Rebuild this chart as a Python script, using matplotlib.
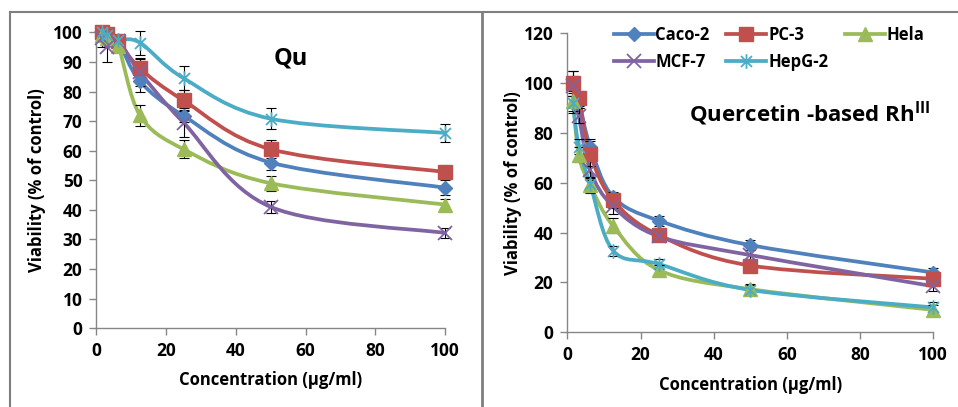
"""Cell viability vs concentration: free quercetin (Qu) and the quercetin-based Rh(III) complex."""
import matplotlib

matplotlib.use("Agg")
import matplotlib.pyplot as plt
from matplotlib.lines import Line2D
from matplotlib.path import Path
from matplotlib.patches import PathPatch

plt.rcParams["font.family"] = ["Open Sans", "DejaVu Sans"]
plt.rcParams["font.weight"] = "bold"
plt.rcParams["mathtext.fontset"] = "custom"
plt.rcParams["mathtext.rm"] = "Open Sans:bold"
plt.rcParams["mathtext.bf"] = "Open Sans:bold"

conc = [1.56, 3.125, 6.25, 12.5, 25, 50, 100]
cell_lines = ["Caco-2", "PC-3", "Hela", "MCF-7", "HepG-2"]

# viability (% of control), free quercetin
qu_caco2 = [100, 98.5, 97, 83.5, 71.8, 56.0, 47.5]
qu_pc3 = [100, 99.5, 97, 87.8, 77.0, 60.5, 52.8]
qu_hela = [99, 98, 95.5, 72.0, 60.5, 49.0, 41.8]
qu_mcf7 = [98, 95, 97, 86.5, 69.5, 41.0, 32.2]
qu_hepg2 = [100, 99, 97.5, 96.5, 84.5, 70.8, 66.0]

qu_caco2_sd = [2, 2, 2, 3.5, 2, 2.5, 2.5]
qu_pc3_sd = [1, 1, 1.5, 3.5, 3.5, 3, 1.5]
qu_hela_sd = [1, 1, 2, 3.5, 3, 2.5, 2]
qu_mcf7_sd = [3, 5, 2, 4.5, 5, 2, 1.8]
qu_hepg2_sd = [2, 2, 1.5, 4, 4, 3.5, 3]

# viability (% of control), quercetin-based Rh(III) complex
rh_caco2 = [100, 93, 74.5, 54.4, 44.8, 35.0, 24.0]
rh_pc3 = [100, 94, 71.6, 53.0, 39.0, 26.8, 21.5]
rh_hela = [93, 71.2, 59.0, 42.7, 25.0, 17.3, 9.0]
rh_mcf7 = [99, 87, 65.0, 50.5, 38.5, 31.0, 18.5]
rh_hepg2 = [92, 74.5, 59.5, 32.8, 27.4, 17.0, 10.0]

rh_caco2_sd = [5, 3, 3, 2, 2, 2, 2]
rh_pc3_sd = [5, 3, 5, 3, 2, 2.5, 2]
rh_hela_sd = [4, 3, 3, 3, 2, 2, 2]
rh_mcf7_sd = [4, 3, 4, 3, 2, 2, 2]
rh_hepg2_sd = [4, 3, 3, 2, 2, 2, 2]

colors = ["#4F81BD", "#C0504D", "#9BBB59", "#8064A2", "#4BACC6"]

# Excel-style star: an X with a vertical bar through it
star = Path([(0, -1), (0, 1), (-0.75, -0.75), (0.75, 0.75), (-0.75, 0.75), (0.75, -0.75)],
            [Path.MOVETO, Path.LINETO, Path.MOVETO, Path.LINETO, Path.MOVETO, Path.LINETO])
markers = [
    dict(marker="D", markersize=7.5, mec="#4F81BD"),
    dict(marker="s", markersize=10, mec="#C0504D"),
    dict(marker="^", markersize=10, mec="#9BBB59"),
    dict(marker="x", markersize=9.5, mew=1.3),
    dict(marker=star, markersize=10.5, mew=1.3),
]


def smooth_path(xs, ys):
    # Catmull-Rom style cubic Bezier through the points (like Excel's smoothed line)
    pts = list(zip(xs, ys))
    verts = [pts[0]]
    codes = [Path.MOVETO]
    n = len(pts)
    for i in range(n - 1):
        p0 = pts[max(i - 1, 0)]
        p1 = pts[i]
        p2 = pts[i + 1]
        p3 = pts[min(i + 2, n - 1)]
        c1 = (p1[0] + (p2[0] - p0[0]) / 6, p1[1] + (p2[1] - p0[1]) / 6)
        c2 = (p2[0] - (p3[0] - p1[0]) / 6, p2[1] - (p3[1] - p1[1]) / 6)
        verts += [c1, c2, p2]
        codes += [Path.CURVE4] * 3
    return Path(verts, codes)


def draw_panel(ax, series, errors, ymax, ystep, ylab_x, xlab_y):
    for k, (ys, es) in enumerate(zip(series, errors)):
        ax.add_patch(PathPatch(smooth_path(conc, ys), fill=False, ec=colors[k], lw=2.7,
                               zorder=2 + k * 0.1, clip_on=False, capstyle="round"))
        ax.errorbar(conc, ys, yerr=es, fmt="none", ecolor="black", elinewidth=0.8,
                    capsize=3.5, capthick=0.8, zorder=3, clip_on=False)
        ax.plot(conc, ys, ls="none", color=colors[k], zorder=4 + k * 0.1, clip_on=False,
                **markers[k])
    ax.set_xlim(0, 100)
    ax.set_ylim(0, ymax)
    ax.set_xticks(range(0, 101, 20))
    ax.set_yticks(range(0, ymax + 1, ystep))
    for s in ("top", "right"):
        ax.spines[s].set_visible(False)
    for s in ("left", "bottom"):
        ax.spines[s].set_color("#868686")
        ax.spines[s].set_linewidth(1.0)
    ax.tick_params(axis="both", direction="out", length=5, width=1.0, color="#868686",
                   labelsize=12.5, pad=5)
    for lbl in ax.get_xticklabels() + ax.get_yticklabels():
        lbl.set_fontweight("bold")
    ax.set_xlabel("Concentration (µg/ml)", fontsize=12, fontweight="bold")
    ax.set_ylabel("Viability (% of control)", fontsize=12, fontweight="bold")
    ax.yaxis.set_label_coords(ylab_x, 0.5)
    ax.xaxis.set_label_coords(0.5, xlab_y)
    ax.xaxis.label.set_va("center")
    ax.yaxis.label.set_va("center")


fig = plt.figure(figsize=(9.58, 4.07), dpi=100)
ax1 = fig.add_axes([0.1005, 0.1934, 0.3643, 0.7272])
ax2 = fig.add_axes([0.5922, 0.1835, 0.3820, 0.7347])

draw_panel(ax1, [qu_caco2, qu_pc3, qu_hela, qu_mcf7, qu_hepg2],
           [qu_caco2_sd, qu_pc3_sd, qu_hela_sd, qu_mcf7_sd, qu_hepg2_sd], 100, 10,
           -0.171, -0.175)
draw_panel(ax2, [rh_caco2, rh_pc3, rh_hela, rh_mcf7, rh_hepg2],
           [rh_caco2_sd, rh_pc3_sd, rh_hela_sd, rh_mcf7_sd, rh_hepg2_sd], 120, 20,
           -0.148, -0.176)

ax1.text(0.556, 0.913, "Qu", transform=ax1.transAxes, ha="center", va="center",
         fontsize=17, fontweight="bold")
ax2.text(0.663, 0.733, r"Quercetin -based Rh$^{\mathrm{III}}$", transform=ax2.transAxes,
         ha="center", va="center", fontsize=16, fontweight="bold")

# legend laid out as two rows: Caco-2, PC-3, Hela / MCF-7, HepG-2
handles = [Line2D([], [], color=colors[k], lw=2.7, **markers[k]) for k in range(5)]
order = [0, 3, 1, 4, 2]
ax2.legend([handles[i] for i in order], [cell_lines[i] for i in order], ncol=3,
           loc="upper left", bbox_to_anchor=(0.095, 1.065), frameon=False,
           prop={"weight": "bold", "size": 12}, handlelength=2.4, handletextpad=0.1,
           columnspacing=1.0, labelspacing=0.55, borderpad=0.2)

# outer frame around the two panels
frame = dict(color="#7f7f7f", lw=1.5, transform=fig.transFigure)
fig.add_artist(Line2D([10 / 958, 1], [1 - 12 / 407] * 2, **frame))
fig.add_artist(Line2D([10 / 958] * 2, [0, 1 - 12 / 407], **frame))
fig.add_artist(Line2D([481.5 / 958] * 2, [0, 1 - 12 / 407], color="#7f7f7f", lw=2,
                      transform=fig.transFigure))

fig.savefig("out.png", dpi=100)
